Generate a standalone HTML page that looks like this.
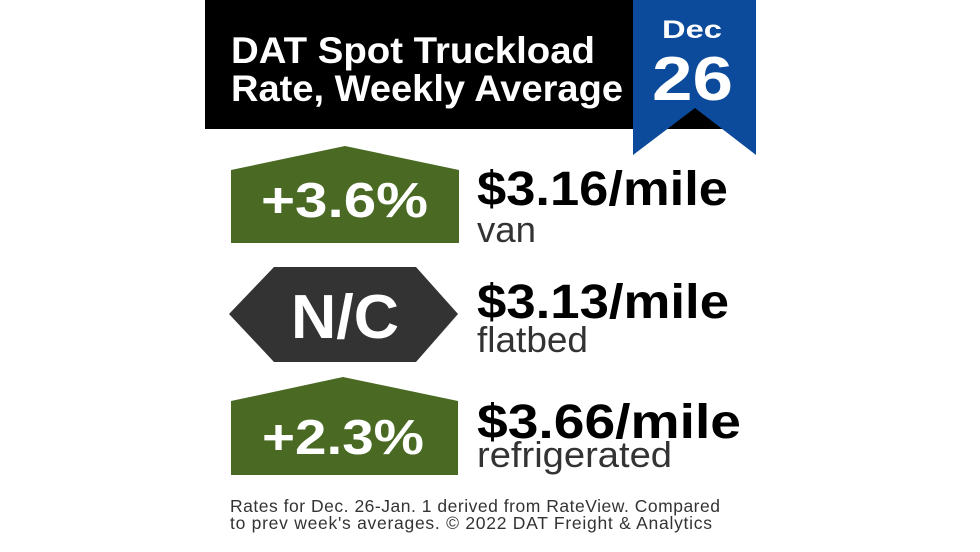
<!DOCTYPE html>
<html>
<head>
<meta charset="utf-8">
<style>
  html, body { margin: 0; padding: 0; background: #ffffff; }
  body { width: 980px; height: 552px; overflow: hidden; }
  svg { display: block; }
  text { font-family: "Liberation Sans", Arial, sans-serif; }
</style>
</head>
<body>
<svg width="980" height="552" viewBox="0 0 980 552" xmlns="http://www.w3.org/2000/svg">
  <rect x="0" y="0" width="980" height="552" fill="#ffffff"/>

  <!-- Header black box -->
  <rect x="205" y="0" width="550" height="129" fill="#000000"/>
  <!-- Blue ribbon -->
  <polygon points="633,0 756,0 756,155 695,108 633,155" fill="#0c4a9b"/>

  <!-- Title -->
  <text x="231" y="63" font-size="37" font-weight="bold" fill="#ffffff" textLength="364" lengthAdjust="spacingAndGlyphs">DAT Spot Truckload</text>
  <text x="231" y="101" font-size="37" font-weight="bold" fill="#ffffff" textLength="392" lengthAdjust="spacingAndGlyphs">Rate, Weekly Average</text>

  <!-- Date -->
  <text x="662" y="38" font-size="25" font-weight="bold" fill="#ffffff" textLength="60" lengthAdjust="spacingAndGlyphs">Dec</text>
  <text x="652" y="100" font-size="62" font-weight="bold" fill="#ffffff" textLength="81" lengthAdjust="spacingAndGlyphs">26</text>

  <!-- Van badge -->
  <polygon points="231,170 345,146 459,170 459,243 231,243" fill="#4a6a24"/>
  <text x="261" y="217" font-size="49" font-weight="bold" fill="#ffffff" textLength="167" lengthAdjust="spacingAndGlyphs">+3.6%</text>

  <!-- Flatbed badge -->
  <polygon points="229,314 274,267 416,267 458,314 416,362 274,362" fill="#333333"/>
  <text x="291" y="338" font-size="62" font-weight="bold" fill="#ffffff" textLength="108" lengthAdjust="spacingAndGlyphs">N/C</text>

  <!-- Reefer badge -->
  <polygon points="231,401 343,377 458,401 458,475 231,475" fill="#4a6a24"/>
  <text x="262" y="454" font-size="49" font-weight="bold" fill="#ffffff" textLength="162" lengthAdjust="spacingAndGlyphs">+2.3%</text>

  <!-- Prices -->
  <text x="477" y="205" font-size="48" font-weight="bold" fill="#000000" textLength="251" lengthAdjust="spacingAndGlyphs">$3.16/mile</text>
  <text x="477" y="242" font-size="36" fill="#333333" textLength="59" lengthAdjust="spacingAndGlyphs">van</text>

  <text x="477" y="318" font-size="48" font-weight="bold" fill="#000000" textLength="252" lengthAdjust="spacingAndGlyphs">$3.13/mile</text>
  <text x="477" y="352" font-size="36" fill="#333333" textLength="111" lengthAdjust="spacingAndGlyphs">flatbed</text>

  <text x="477" y="438" font-size="48" font-weight="bold" fill="#000000" textLength="264" lengthAdjust="spacingAndGlyphs">$3.66/mile</text>
  <text x="477" y="467" font-size="36" fill="#333333" textLength="195" lengthAdjust="spacingAndGlyphs">refrigerated</text>

  <!-- Footer -->
  <text x="230" y="512" font-size="17.5" fill="#333333" textLength="490" lengthAdjust="spacing">Rates for Dec. 26-Jan. 1 derived from RateView. Compared</text>
  <text x="230" y="529" font-size="17.5" fill="#333333" textLength="482" lengthAdjust="spacing">to prev week's averages. © 2022 DAT Freight &amp; Analytics</text>
</svg>
</body>
</html>
